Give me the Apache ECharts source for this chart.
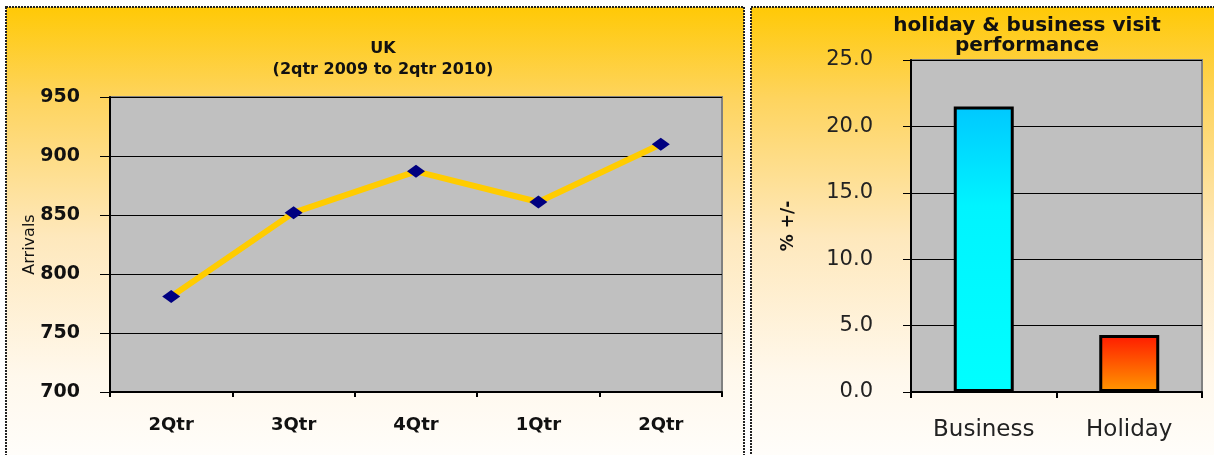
<!DOCTYPE html>
<html>
<head>
<meta charset="utf-8">
<script src="https://cdn.jsdelivr.net/npm/echarts@6/dist/echarts.min.js"></script>
<style>
  html, body { margin: 0; padding: 0; background: #ffffff; }
  #chart { width: 1214px; height: 455px; }
</style>
</head>
<body>
<div id="chart"></div>
<script>
// UK arrivals by quarter (2qtr 2009 to 2qtr 2010)
const quarters = ['2Qtr', '3Qtr', '4Qtr', '1Qtr', '2Qtr'];
const arrivals = [781, 852, 887, 861, 910];
const arrivalTicks = { min: 700, max: 950, interval: 50 };

// Holiday & business visit performance, % change
const visitTypes = ['Business', 'Holiday'];
const visitChange = [21.5, 4.3];
const changeTicks = { min: 0, max: 25, interval: 5 };

const FONT = "'DejaVu Sans', Verdana, sans-serif";

const panelFill = {
  type: 'linear', x: 0, y: 0, x2: 0, y2: 1,
  colorStops: [
    { offset: 0, color: '#FFC905' },
    { offset: 0.2, color: '#FED45E' },
    { offset: 0.5, color: '#FEE8BC' },
    { offset: 0.8, color: '#FFF8EC' },
    { offset: 1, color: '#FFFEFC' }
  ]
};

const chart = echarts.init(document.getElementById('chart'));

chart.setOption({
  animation: false,
  graphic: [
    {
      type: 'rect', z: -100,
      shape: { x: 6, y: 7, width: 738, height: 460 },
      style: { fill: panelFill, stroke: '#222', lineWidth: 2, lineDash: [2, 1] }
    },
    {
      type: 'rect', z: -100,
      shape: { x: 751, y: 7, width: 470, height: 460 },
      style: { fill: panelFill, stroke: '#222', lineWidth: 2, lineDash: [2, 1] }
    }
  ],
  title: [
    {
      text: 'UK\n(2qtr 2009 to 2qtr 2010)',
      left: 378, top: 33, textAlign: 'center',
      textStyle: { fontFamily: FONT, fontWeight: 'bold', fontSize: 16, lineHeight: 21, color: '#111' }
    },
    {
      text: 'holiday & business visit\nperformance',
      left: 1022, top: 11, textAlign: 'center',
      textStyle: { fontFamily: FONT, fontWeight: 'bold', fontSize: 20, lineHeight: 20, color: '#111' }
    }
  ],
  grid: [
    {
      left: 110, right: 492, top: 97, bottom: 63,
      show: true, backgroundColor: '#C0C0C0', borderColor: '#808080', borderWidth: 2
    },
    {
      left: 911, right: 12, top: 60, bottom: 63,
      show: true, backgroundColor: '#C0C0C0', borderColor: '#808080', borderWidth: 2
    }
  ],
  xAxis: [
    {
      gridIndex: 0, type: 'category', data: quarters, boundaryGap: true,
      axisLine: { lineStyle: { color: '#000', width: 2 } },
      axisTick: { show: true, length: 5, lineStyle: { color: '#000', width: 2 } },
      axisLabel: { margin: 24, fontFamily: FONT, fontWeight: 'bold', fontSize: 18, color: '#111' }
    },
    {
      gridIndex: 1, type: 'category', data: visitTypes, boundaryGap: true,
      axisLine: { lineStyle: { color: '#000', width: 2 } },
      axisTick: { show: true, length: 6, lineStyle: { color: '#000', width: 2 } },
      axisLabel: { margin: 27, fontFamily: FONT, fontSize: 23, color: '#222' }
    }
  ],
  yAxis: [
    {
      gridIndex: 0, type: 'value',
      min: arrivalTicks.min, max: arrivalTicks.max, interval: arrivalTicks.interval,
      name: 'Arrivals', nameLocation: 'middle', nameGap: 72, nameMoveOverlap: false,
      nameTextStyle: { fontFamily: FONT, fontSize: 16, color: '#111' },
      axisLine: { show: true, lineStyle: { color: '#000', width: 2 } },
      axisTick: { show: true, length: 10, lineStyle: { color: '#000', width: 1 } },
      axisLabel: { margin: 30, fontFamily: FONT, fontWeight: 'bold', fontSize: 19, color: '#111' },
      splitLine: { show: true, lineStyle: { color: '#000', width: 1 } }
    },
    {
      gridIndex: 1, type: 'value',
      min: changeTicks.min, max: changeTicks.max, interval: changeTicks.interval,
      name: '% +/-', nameLocation: 'middle', nameGap: 114, nameMoveOverlap: false,
      nameTextStyle: { fontFamily: FONT, fontWeight: 'bold', fontSize: 17, color: '#111' },
      axisLine: { show: true, lineStyle: { color: '#000', width: 2 } },
      axisTick: { show: true, length: 8, lineStyle: { color: '#000', width: 1 } },
      axisLabel: {
        margin: 38, fontFamily: FONT, fontSize: 21, color: '#222',
        formatter: v => v.toFixed(1)
      },
      splitLine: { show: true, lineStyle: { color: '#000', width: 1 } }
    }
  ],
  series: [
    {
      type: 'line', xAxisIndex: 0, yAxisIndex: 0, data: arrivals,
      lineStyle: { color: '#FFCC00', width: 6 },
      symbol: 'diamond', symbolSize: [18, 13],
      itemStyle: { color: '#000080' }
    },
    {
      type: 'bar', xAxisIndex: 1, yAxisIndex: 1, barWidth: 60,
      data: visitChange.map((v, i) => ({
        value: v,
        itemStyle: {
          borderColor: '#000', borderWidth: 3,
          color: i === 0
            ? { type: 'linear', x: 0, y: 0, x2: 0, y2: 1,
                colorStops: [{ offset: 0, color: '#00C8FF' }, { offset: 0.35, color: '#00F4FF' }, { offset: 1, color: '#00FFFF' }] }
            : { type: 'linear', x: 0, y: 0, x2: 0, y2: 1,
                colorStops: [{ offset: 0, color: '#FF1A00' }, { offset: 1, color: '#FF9900' }] }
        }
      }))
    }
  ]
});
</script>
</body>
</html>
